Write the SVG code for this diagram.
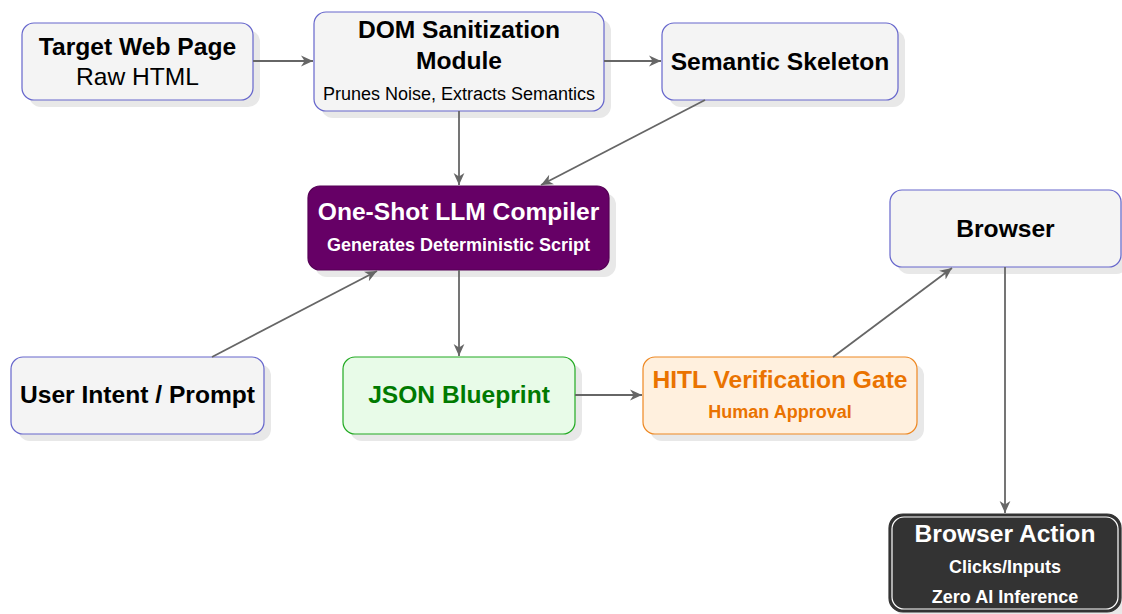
<svg xmlns="http://www.w3.org/2000/svg" width="1122" height="614" viewBox="0 0 1122 614">
<defs>
<marker id="arr" markerWidth="12" markerHeight="12" refX="10" refY="5" orient="auto" markerUnits="userSpaceOnUse" viewBox="0 0 10 10">
<path d="M0,0.5 L10,5 L0,9.5 L3,5 Z" fill="#666666"/>
</marker>
</defs>
<style>
text{font-family:"Liberation Sans",Arial,Helvetica,sans-serif;text-anchor:middle}
.t{font-size:24.6px;font-weight:bold}
.n{font-size:24.6px}
.s{font-size:18px}
.sb{font-size:18px;font-weight:bold}
.g{fill:#f4f4f4;stroke:#6666cc;stroke-width:1.2}
.sh{fill:#e8e8e8}
.c{stroke:#666666;stroke-width:1.8;fill:none;marker-end:url(#arr)}
</style>
<g id="target">
<rect class="sh" x="29" y="30" width="231" height="77" rx="12"/>
<rect class="g" x="22" y="23" width="231" height="77" rx="12"/>
<text class="t" x="137.5" y="55">Target Web Page</text>
<text class="n" x="137.5" y="85">Raw HTML</text>
</g>
<g id="dom">
<rect class="sh" x="321" y="19" width="290" height="99" rx="12"/>
<rect class="g" x="314" y="12" width="290" height="99" rx="12"/>
<text class="t" x="459" y="38">DOM Sanitization</text>
<text class="t" x="459" y="69">Module</text>
<text class="s" x="459" y="100">Prunes Noise, Extracts Semantics</text>
</g>
<g id="skeleton">
<rect class="sh" x="669" y="30" width="236" height="77" rx="12"/>
<rect class="g" x="662" y="23" width="236" height="77" rx="12"/>
<text class="t" x="780" y="70">Semantic Skeleton</text>
</g>
<g id="compiler">
<rect class="sh" x="315" y="193" width="301" height="84" rx="12"/>
<rect x="308" y="186" width="301" height="84" rx="12" fill="#660066" stroke="#550055" stroke-width="1.2"/>
<text class="t" x="458.5" y="220" fill="#ffffff">One-Shot LLM Compiler</text>
<text class="sb" x="458.5" y="251" fill="#ffffff">Generates Deterministic Script</text>
</g>
<g id="browser">
<rect class="sh" x="897" y="197" width="231" height="77" rx="12"/>
<rect class="g" x="890" y="190" width="231" height="77" rx="12"/>
<text class="t" x="1005.5" y="237">Browser</text>
</g>
<g id="intent">
<rect class="sh" x="18" y="364" width="253" height="77" rx="12"/>
<rect class="g" x="11" y="357" width="253" height="77" rx="12"/>
<text class="t" x="137.5" y="403">User Intent / Prompt</text>
</g>
<g id="json">
<rect class="sh" x="350" y="364" width="232" height="77" rx="12"/>
<rect x="343" y="357" width="232" height="77" rx="12" fill="#e8fbe8" stroke="#22aa22" stroke-width="1.2"/>
<text class="t" x="459" y="403" fill="#007a00">JSON Blueprint</text>
</g>
<g id="hitl">
<rect class="sh" x="650" y="364" width="274" height="77" rx="12"/>
<rect x="643" y="357" width="274" height="77" rx="12" fill="#fff0de" stroke="#ee8822" stroke-width="1.2"/>
<text class="t" x="780" y="388" fill="#ea7300">HITL Verification Gate</text>
<text class="sb" x="780" y="418" fill="#ea7300">Human Approval</text>
</g>
<g id="action">
<rect class="sh" x="896" y="521" width="232" height="98" rx="14"/>
<rect x="889" y="514" width="232" height="98" rx="14" fill="#333333" stroke="#333333" stroke-width="1.2"/>
<rect x="892" y="517" width="226" height="92" rx="12" fill="none" stroke="#ffffff" stroke-width="1.2"/>
<text class="t" x="1005" y="542" fill="#ffffff">Browser Action</text>
<text class="sb" x="1005" y="573" fill="#ffffff">Clicks/Inputs</text>
<text class="sb" x="1005" y="603" fill="#ffffff">Zero AI Inference</text>
</g>
<g id="connectors">
<line class="c" x1="253" y1="61" x2="313" y2="61"/>
<line class="c" x1="604" y1="61" x2="661" y2="61"/>
<line class="c" x1="459" y1="111" x2="459" y2="185"/>
<line class="c" x1="705" y1="100" x2="541" y2="185"/>
<line class="c" x1="212" y1="357" x2="377" y2="271"/>
<line class="c" x1="459" y1="270" x2="459" y2="356"/>
<line class="c" x1="575" y1="395" x2="642" y2="395"/>
<line class="c" x1="833" y1="357" x2="952" y2="268"/>
<line class="c" x1="1005" y1="267" x2="1005" y2="513"/>
</g>
</svg>
